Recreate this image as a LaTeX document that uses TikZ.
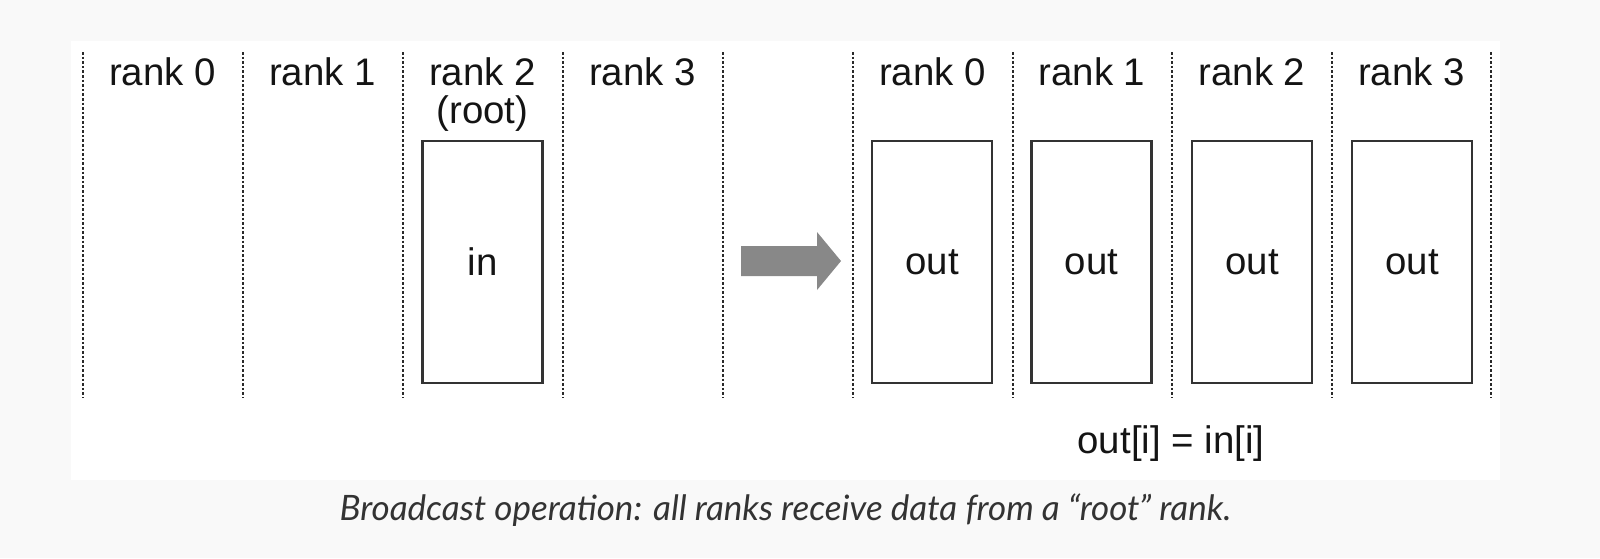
\documentclass[tikz,border=0pt]{standalone}
\usepackage{fontspec}
\setmainfont{Liberation Sans}
\newfontfamily\capfont{Lato}
\definecolor{bgc}{HTML}{F9F9F9}
\definecolor{txt}{HTML}{141414}
\definecolor{capc}{HTML}{333333}
\definecolor{arrowc}{HTML}{888888}
\definecolor{linec}{HTML}{333333}
\definecolor{sepc}{HTML}{2A2A2A}
\tikzset{
  lbl/.style={anchor=base, inner sep=0pt, text=txt, font=\fontsize{19.2pt}{19.2pt}\selectfont},
  buf/.style={draw=linec, line width=1.15pt, minimum width=60pt, minimum height=121pt, inner sep=0pt, text=txt, font=\fontsize{19.2pt}{19.2pt}\selectfont},
  sep/.style={draw=sepc, line width=1pt, dash pattern=on 1.3pt off 1pt},
}
\begin{document}
\begin{tikzpicture}[x=0.5pt, y=-0.5pt]
\useasboundingbox (0,0) rectangle (1600,558);
\fill[bgc] (0,0) rectangle (1600,558);
\fill[white] (71,41) rectangle (1500,480);
% separators
\foreach \x in {82.5,242.5,402.5,562.5,722.5,853,1012.5,1172,1331.5,1491}
  \draw[sep] (\x,52) -- (\x,398);
% left labels
\node[lbl] (l0) at (162.5,85) {rank 0};
\node[lbl] (l1) at (322.5,85) {rank 1};
\node[lbl] (l2) at (482.5,85) {rank 2};
\node[lbl] (lroot) at (482.5,123.5) {(root)};
\node[lbl] (l3) at (642.5,85) {rank 3};
% right labels
\node[lbl] (r0) at (932.5,85) {rank 0};
\node[lbl] (r1) at (1092,85) {rank 1};
\node[lbl] (r2) at (1252,85) {rank 2};
\node[lbl] (r3) at (1411.5,85) {rank 3};
% buffers
\node[buf] (in) at (482.5,262) {in};
\node[buf] (o0) at (932,262) {out};
\node[buf] (o1) at (1091.5,262) {out};
\node[buf] (o2) at (1252,262) {out};
\node[buf] (o3) at (1412,262) {out};
% arrow
\fill[arrowc] (741,246) -- (817,246) -- (817,232) -- (841,261) -- (817,290) -- (817,276) -- (741,276) -- cycle;
% formula
\node[lbl] (eq) at (1171,453) {out[i] = in[i]};
% caption
\node[anchor=base, inner sep=0pt, text=capc, font=\capfont\itshape\fontsize{17.5pt}{17.5pt}\selectfont] (cap) at (785.5,520) {Broadcast operation: all ranks receive data from a “root” rank.};
\end{tikzpicture}
\end{document}
